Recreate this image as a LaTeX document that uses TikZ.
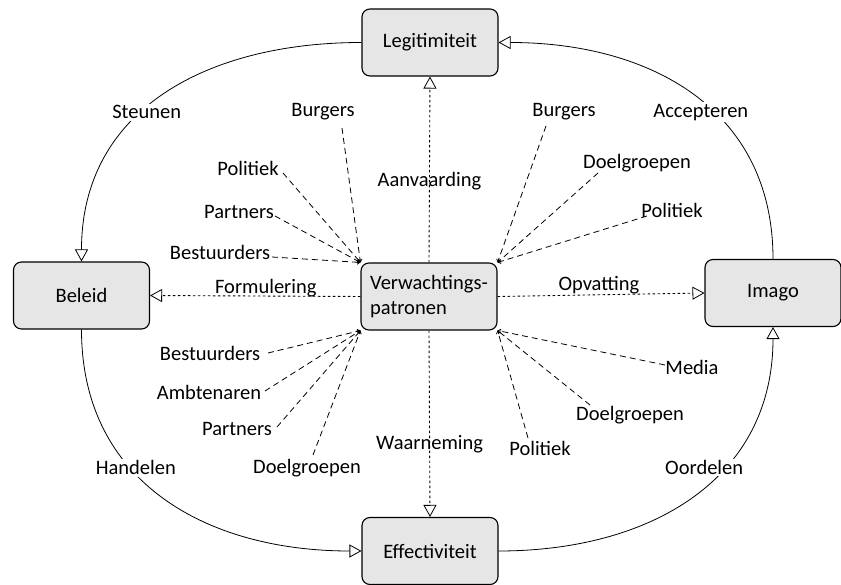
\documentclass[tikz,border=0pt]{standalone}
\usepackage{fontspec}
\setmainfont{Carlito}
\usetikzlibrary{arrows.meta}
\definecolor{boxgray}{HTML}{E6E6E6}
\begin{document}
\begin{tikzpicture}[x=1pt,y=-1pt,
  font=\fontsize{20.5}{25}\selectfont,
  box/.style={draw, line width=1.1pt, rounded corners=8pt, fill=boxgray,
    minimum width=136pt, minimum height=67pt, inner sep=0pt},
  lbl/.style={inner sep=1.5pt},
  openhead/.style={-{Triangle[open,length=12pt,width=13pt,line width=0.8pt]}},
  cyc/.style={line width=0.8pt, openhead},
  dotline/.style={line width=0.9pt, dash pattern=on 2.5pt off 2.5pt, openhead},
  spoke/.style={line width=0.8pt, dash pattern=on 6pt off 4pt,
    -{Straight Barb[length=2.5pt,width=4pt]}},
]
\useasboundingbox (0,0) rectangle (841,585);

% main boxes
\node[box] (L) at (430,42.5) {Legitimiteit};
\node[box] (B) at (81.5,295.5) {Beleid};
\node[box, align=left] (V) at (429,296.5) {Verwachtings-\\patronen};
\node[box] (I) at (773,293) {Imago};
\node[box] (E) at (430,551) {Effectiviteit};

% outer cycle
\draw[cyc] (L.west) to[out=180,in=90,looseness=1.1]
  node[lbl,fill=white,pos=0.56,yshift=-4pt] {Steunen} (B.north);
\draw[cyc] (B.south) to[out=-90,in=180,looseness=1.1]
  node[lbl,fill=white,pos=0.40,yshift=6pt] {Handelen} (E.west);
\draw[cyc] (E.east) to[out=0,in=-90,looseness=1.1]
  node[lbl,fill=white,pos=0.60,xshift=-16pt,yshift=4pt] {Oordelen} (I.south);
\draw[cyc] (I.north) to[out=90,in=0,looseness=1.1]
  node[lbl,fill=white,pos=0.46,xshift=-3pt,yshift=-9pt] {Accepteren} (L.east);

% dotted links from the central box
\draw[dotline] (V.north) -- node[lbl,pos=0.44] {Aanvaarding} (L.south);
\draw[dotline] (V.south) -- node[lbl,pos=0.61] {Waarneming} (E.north);
\draw[dotline] (V.west) -- node[lbl,pos=0.45,anchor=base,yshift=3pt] {Formulering} (B.east);
\draw[dotline] (V.east) -- node[lbl,pos=0.49,anchor=base,yshift=4pt] {Opvatting} (I.west);

% actors, upper left
\node[lbl] (tlA) at (323,112) {Burgers};
\node[lbl] (tlB) at (248,168) {Politiek};
\node[lbl] (tlC) at (239,212) {Partners};
\node[lbl] (tlD) at (220,252) {Bestuurders};
\draw[spoke] ([shift={(19,16)}]tlA.center) -- (V.north west);
\draw[spoke] ([shift={(35,5)}]tlB.center) -- (V.north west);
\draw[spoke] ([shift={(36,4)}]tlC.center) -- (V.north west);
\draw[spoke] ([shift={(52,5)}]tlD.center) -- (V.north west);

% actors, upper right
\node[lbl] (trA) at (564,112) {Burgers};
\node[lbl] (trB) at (637,163) {Doelgroepen};
\node[lbl] (trC) at (672,210) {Politiek};
\draw[spoke] ([shift={(-18,14)}]trA.center) -- (V.north east);
\draw[spoke] ([shift={(-39,10)}]trB.center) -- (V.north east);
\draw[spoke] ([shift={(-25,6)}]trC.center) -- (V.north east);

% actors, lower left
\node[lbl] (blA) at (210,353) {Bestuurders};
\node[lbl] (blB) at (209,392) {Ambtenaren};
\node[lbl] (blC) at (237,429) {Partners};
\node[lbl] (blD) at (307,468) {Doelgroepen};
\draw[spoke] ([shift={(58,0)}]blA.center) -- (V.south west);
\draw[spoke] ([shift={(56,-1)}]blB.center) -- (V.south west);
\draw[spoke] ([shift={(40,-2)}]blC.center) -- (V.south west);
\draw[spoke] ([shift={(6,-13)}]blD.center) -- (V.south west);

% actors, lower right
\node[lbl] (brA) at (692,367) {Media};
\node[lbl] (brB) at (630,415) {Doelgroepen};
\node[lbl] (brC) at (540,448) {Politiek};
\draw[spoke] ([shift={(-27,-2)}]brA.center) -- (V.south east);
\draw[spoke] ([shift={(-40,-10)}]brB.center) -- (V.south east);
\draw[spoke] ([shift={(-12,-10)}]brC.center) -- (V.south east);
\end{tikzpicture}
\end{document}
